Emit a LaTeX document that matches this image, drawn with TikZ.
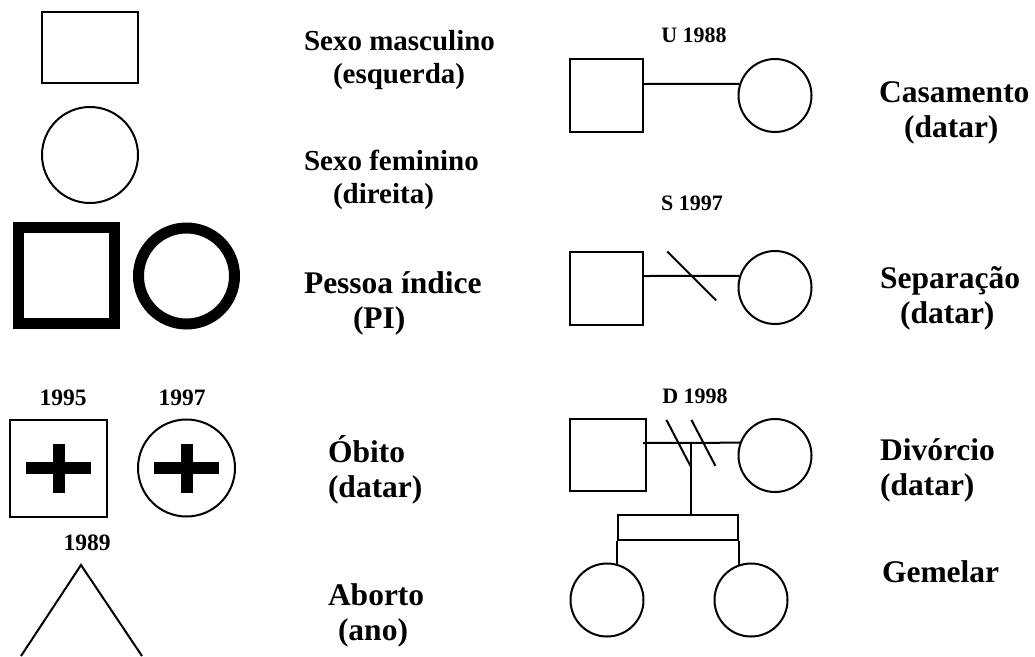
\documentclass[tikz,border=0pt]{standalone}
\usepackage{fontspec}
\setmainfont{Liberation Serif}
\usetikzlibrary{calc}

\begin{document}
\begin{tikzpicture}[x=1pt,y=-1pt,line width=2pt]
% Estilo dos simbolos
\tikzset{
    homem/.style={draw, rectangle, inner sep=0pt, minimum size=73pt},
    mulher/.style={draw, circle, inner sep=0pt, minimum size=73pt},
    indice/.style={line width=11pt, minimum size=96pt},
    rotulo/.style={anchor=base west, align=left, inner sep=0pt,
        font=\bfseries\fontsize{31.5}{35}\selectfont},
    data/.style={anchor=base, inner sep=0pt,
        font=\bfseries\fontsize{22}{26}\selectfont}
}
\useasboundingbox (0,0) rectangle (1035,656);

% Coluna esquerda
\node[homem, minimum width=96pt, minimum height=71pt] (masc) at (90,47.5){};
\node[mulher, minimum size=96pt] (fem) at (90,155){};
\node[homem, indice] (piM) at (66.5,275.5){};
\node[mulher, indice] (piF) at (186.5,276){};

\node[homem, minimum size=97pt] (obM) at (58.5,468){};
\node[mulher, minimum size=97pt] (obF) at (186.5,468){};
\node[data, font=\bfseries\fontsize{23.5}{26}\selectfont] (obMdata) at (63,405){1995};
\node[data, font=\bfseries\fontsize{23.5}{26}\selectfont] (obFdata) at (182,405){1997};
\foreach \n in {obM,obF}{
    \fill ($(\n)+(-32.5,-6)$) rectangle ($(\n)+(32.5,6)$);
    \fill ($(\n)+(-6,-24.5)$) rectangle ($(\n)+(6,24.5)$);
}

\coordinate (abTopo) at (81,565);
\node[data, font=\bfseries\fontsize{23.5}{26}\selectfont] (abData) at (87,550){1989};
\draw ($(abTopo)+(-60,91)$) -- (abTopo) -- ($(abTopo)+(61,91)$);

% Legendas (ancoradas na ultima linha)
\node[rotulo, font=\bfseries\fontsize{29}{33}\selectfont] (txtMasc) at (303,83){Sexo masculino\\\hspace*{29pt}(esquerda)};
\node[rotulo, font=\bfseries\fontsize{29}{33}\selectfont] (txtFem) at (303,203){Sexo feminino\\\hspace*{29pt}(direita)};
\node[rotulo] (txtPI) at (303,328){Pessoa índice\\\hspace*{49pt}(PI)};
\node[rotulo] (txtOb) at (327,497){Óbito\\(datar)};
\node[rotulo] (txtAb) at (327,640){Aborto\\\hspace*{10pt}(ano)};

\node[rotulo] (txtCas) at (878,137){Casamento\\\hspace*{25pt}(datar)};
\node[rotulo] (txtSep) at (879,323){Separação\\\hspace*{20pt}(datar)};
\node[rotulo] (txtDiv) at (879,495){Divórcio\\(datar)};
\node[rotulo] (txtGem) at (881,582){Gemelar};

% Casamento
\node[homem] (casM) at (606.5,95.5){};
\node[mulher] (casF) at (775,95.5){};
\node[data] (casData) at (694,42){U 1988};
\draw ($(casM.east)+(0,-11.5)$) -- (casF.162);

% Separacao
\node[homem] (sepM) at (606.5,288){};
\node[mulher] (sepF) at (775,287.5){};
\node[data] (sepData) at (692,210){S 1997};
\draw ($(sepM.east)+(0,-12)$) coordinate (sepA) -- (sepF.162) coordinate (sepB);
\draw ($(sepA)!0.5!(sepB)$) +(-24.5,-24.5) -- +(24.5,24.5);

% Divorcio e gemeos
\node[homem, minimum width=76pt, minimum height=72pt] (divM) at (608,455){};
\node[mulher] (divF) at (775,455.5){};
\node[data] (divData) at (695,403){D 1998};
\draw ($(divM.east)+(-4,-12)$) coordinate (divA) -- (divF.160) coordinate (divB);
\coordinate (divMeio) at ($(divA)!0.5!(divB)$);
\foreach \dx in {-13,12}
    \draw ($(divMeio)+(\dx,0)$) +(-12,-23) -- +(12,23);

\node[draw, rectangle, inner sep=0pt, minimum width=120pt, minimum height=25pt] (gemBar) at (678,527.5){};
\node[mulher] (gemA) at (607,600){};
\node[mulher] (gemB) at (751,600){};
\draw (divMeio) -- (divMeio |- gemBar.north);
\draw (gemBar.south west) -- (gemBar.south west |- gemA.71);
\draw (gemBar.south east) -- (gemBar.south east |- gemB.109);

\end{tikzpicture}
\end{document}
